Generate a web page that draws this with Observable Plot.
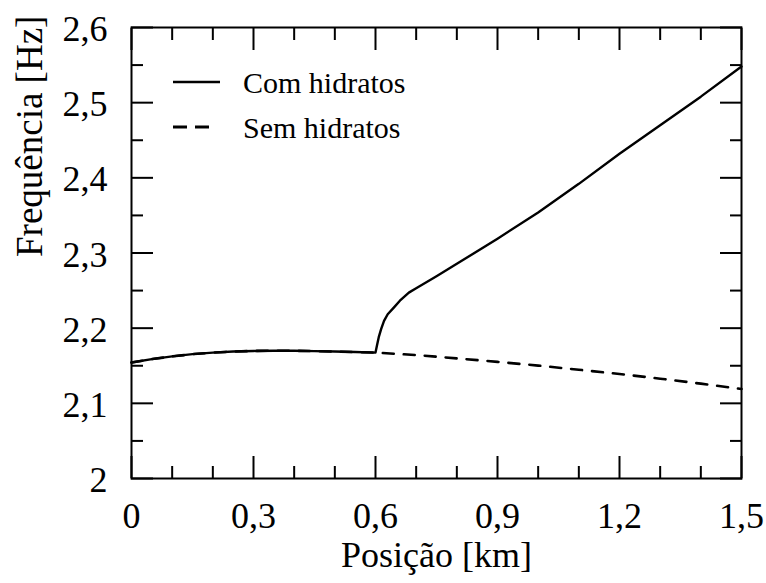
<!DOCTYPE html>
<html><head><meta charset="utf-8">
<script src="https://cdn.jsdelivr.net/npm/d3@7"></script>
<script src="https://cdn.jsdelivr.net/npm/@observablehq/plot@0.6"></script>
<style>body{margin:0;background:#fff} svg text{font-family:'Liberation Serif','Times New Roman',Tinos,'DejaVu Serif',serif !important}</style>
</head><body><div id="chart"></div>
<script>
// Shared portion (both curves coincide up to 0.6 km)
const posShared  = [0, 0.05, 0.1, 0.15, 0.2, 0.25, 0.3, 0.35, 0.4, 0.45, 0.5, 0.55, 0.6];
const freqShared = [2.1543, 2.1588, 2.1625, 2.1654, 2.1675, 2.1689, 2.1697, 2.1700, 2.1699, 2.1695, 2.1689, 2.1682, 2.1675];
// "Com hidratos" after 0.6 km
const posCom  = [0.604, 0.608, 0.614, 0.621, 0.63, 0.645, 0.66, 0.682, 0.7, 0.75, 0.8, 0.9, 1.0, 1.1, 1.2, 1.3, 1.4, 1.5];
const freqCom = [2.178, 2.188, 2.199, 2.2097, 2.2185, 2.2274, 2.2365, 2.2473, 2.253, 2.269, 2.2856, 2.319, 2.354, 2.392, 2.432, 2.470, 2.508, 2.548];
// "Sem hidratos" after 0.6 km
const posSem  = [0.7, 0.8, 0.9, 1.0, 1.1, 1.2, 1.3, 1.4, 1.5];
const freqSem = [2.1642, 2.1598, 2.1552, 2.1502, 2.1447, 2.139, 2.1328, 2.1262, 2.119];

const seriesNames = ["Com hidratos", "Sem hidratos"];

const xMajorTicks = [0, 0.3, 0.6, 0.9, 1.2, 1.5];
const xTickLabels = ["0", "0,3", "0,6", "0,9", "1,2", "1,5"];
const xMinorTicks = [0.1, 0.2, 0.4, 0.5, 0.7, 0.8, 1.0, 1.1, 1.3, 1.4];
const yMajorTicks = [2.0, 2.1, 2.2, 2.3, 2.4, 2.5, 2.6];
const yTickLabels = ["2", "2,1", "2,2", "2,3", "2,4", "2,5", "2,6"];
const yMinorTicks = [2.05, 2.15, 2.25, 2.35, 2.45, 2.55];

const xLabel = "Posição [km]";
const yLabel = "Frequência [Hz]";

const toRows = (xs, ys) => xs.map((x, i) => ({x, y: ys[i]}));
const comRows = toRows(posShared.concat(posCom), freqShared.concat(freqCom));
const semRows = toRows(posShared.concat(posSem), freqShared.concat(freqSem));

const xLabMap = new Map(xMajorTicks.map((v, i) => [v, xTickLabels[i]]));
const yLabMap = new Map(yMajorTicks.map((v, i) => [v, yTickLabels[i]]));

const FONT = "'Liberation Serif','Times New Roman',Tinos,'DejaVu Serif',serif";
const DASH = "11,10";

const plot = Plot.plot({
  width: 766,
  height: 583,
  marginLeft: 131,
  marginRight: 25,
  marginTop: 27,
  marginBottom: 105,
  style: {fontFamily: FONT, background: "#fff", color: "#000"},
  x: {domain: [0, 1.5]},
  y: {domain: [2, 2.6]},
  marks: [
    Plot.line(semRows, {x: "x", y: "y", stroke: "#000", strokeWidth: 2.6, strokeDasharray: DASH}),
    Plot.line(comRows, {x: "x", y: "y", stroke: "#000", strokeWidth: 2.4}),
    Plot.frame({stroke: "#000", strokeWidth: 2}),
    // inward ticks, all four sides
    Plot.axisX(xMajorTicks, {anchor: "bottom", tickSize: -22, tickFormat: () => "", label: null, strokeWidth: 2}),
    Plot.axisX(xMinorTicks, {anchor: "bottom", tickSize: -12, tickFormat: () => "", label: null, strokeWidth: 2}),
    Plot.axisX(xMajorTicks, {anchor: "top", tickSize: -22, tickFormat: () => "", label: null, strokeWidth: 2}),
    Plot.axisX(xMinorTicks, {anchor: "top", tickSize: -12, tickFormat: () => "", label: null, strokeWidth: 2}),
    Plot.axisY(yMajorTicks, {anchor: "left", tickSize: -22, tickFormat: () => "", label: null, strokeWidth: 2}),
    Plot.axisY(yMinorTicks, {anchor: "left", tickSize: -12, tickFormat: () => "", label: null, strokeWidth: 2}),
    Plot.axisY(yMajorTicks, {anchor: "right", tickSize: -22, tickFormat: () => "", label: null, strokeWidth: 2}),
    Plot.axisY(yMinorTicks, {anchor: "right", tickSize: -12, tickFormat: () => "", label: null, strokeWidth: 2}),
    // tick labels
    Plot.axisX(xMajorTicks, {anchor: "bottom", tickSize: 0, tickPadding: 24, tickFormat: d => xLabMap.get(d), label: null, fontSize: 36, fill: "#000"}),
    Plot.axisY(yMajorTicks, {anchor: "left", tickSize: 0, tickPadding: 24, dy: 2, tickFormat: d => yLabMap.get(d), label: null, fontSize: 36, fill: "#000"}),
    // axis titles
    Plot.text([xLabel], {frameAnchor: "bottom", dy: 88, fontSize: 36, fill: "#000"}),
    Plot.text([yLabel], {frameAnchor: "left", rotate: -90, dx: -101, dy: 4, fontSize: 37, fill: "#000"})
  ]
});

// Legend (top-left inside frame)
const svg = d3.select(plot);
const lg = svg.append("g").attr("font-size", 30).attr("fill", "#000").attr("text-anchor", "start");
const legendItems = [
  {name: seriesNames[0], dash: null, dy: 55, len: 47},
  {name: seriesNames[1], dash: "14,8", dy: 100, len: 36}
];
const x0 = 131;
const y0 = 27;
legendItems.forEach(it => {
  lg.append("line")
    .attr("x1", x0 + 42).attr("x2", x0 + 42 + it.len)
    .attr("y1", y0 + it.dy).attr("y2", y0 + it.dy)
    .attr("stroke", "#000").attr("stroke-width", it.dash ? 3 : 2.4)
    .attr("stroke-dasharray", it.dash);
  lg.append("text")
    .attr("x", x0 + 112).attr("y", y0 + it.dy + 11)
    .text(it.name);
});

document.getElementById("chart").appendChild(plot);
</script>
</body></html>
